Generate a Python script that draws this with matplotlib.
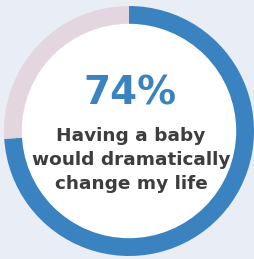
import matplotlib.pyplot as plt

# Data
labels = ['Agree', 'Other']
values = [74, 26]
headline = '74%'
caption = 'Having a baby\nwould dramatically\nchange my life'

colors = ['#3b82c1', '#e4d6df']
bg = '#e8edf6'

fig = plt.figure(figsize=(2.55, 2.59), dpi=100)
fig.patch.set_facecolor(bg)
ax = fig.add_axes([0, 0, 1, 1])
ax.set_facecolor(bg)

# donut ring, clockwise from 12 o'clock
ax.pie(values, colors=colors, startangle=90, counterclock=False,
       center=(129, 128), radius=125,
       wedgeprops=dict(width=19, edgecolor='none'))
ax.add_patch(plt.Circle((129, 128), 106.5, color='white', zorder=3))

ax.text(130, 166, headline, ha='center', va='center', fontsize=28,
        fontweight='heavy', color='#3b82c1', zorder=4)
ax.text(131, 99, caption, ha='center', va='center', fontsize=13.3,
        fontweight='bold', color='#3d3d3d', linespacing=1.4, zorder=4)

ax.set_xlim(0, 255)
ax.set_ylim(0, 259)
ax.set_aspect('equal')
ax.axis('off')

fig.savefig('out.png', dpi=100, facecolor=bg)
